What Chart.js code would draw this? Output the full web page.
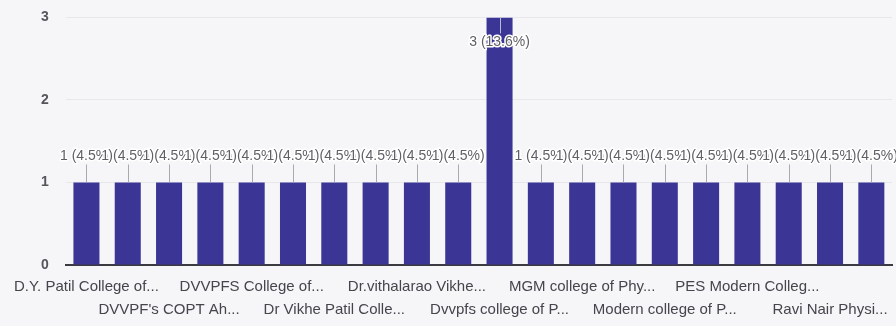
<!DOCTYPE html>
<html>
<head>
<meta charset="utf-8">
<script src="https://cdn.jsdelivr.net/npm/chart.js@4"></script>
<style>
  html, body { margin: 0; padding: 0; background: #f6f6f8; }
  #wrap { width: 896px; height: 326px; }
</style>
</head>
<body>
<div id="wrap"><canvas id="chart"></canvas></div>
<script>
// colleges, only every other name is readable in the picture
const categories = [
    "D.Y. Patil College of...", "",
    "DVVPF's COPT Ah...", "",
    "DVVPFS College of...", "",
    "Dr Vikhe Patil Colle...", "",
    "Dr.vithalarao Vikhe...", "",
    "Dvvpfs college of P...", "",
    "MGM college of Phy...", "",
    "Modern college of P...", "",
    "PES Modern Colleg...", "",
    "Ravi Nair Physi...", ""
];
const counts = [1, 1, 1, 1, 1, 1, 1, 1, 1, 1, 3, 1, 1, 1, 1, 1, 1, 1, 1, 1];
const yTicks = [0, 1, 2, 3];

const barColor = "#3b3596";
const textColor = "#5f5f66";

const total = counts.reduce((a, b) => a + b, 0);

// google-style annotations: value (pct) with a white aura and a small leader line
const annotations = {
    id: "annotations",
    afterDatasetsDraw(chart)
    {
        const ctx = chart.ctx;
        const area = chart.chartArea;
        const bars = chart.getDatasetMeta(0).data;

        ctx.save();
        ctx.font = "14px 'Liberation Sans', Arial, sans-serif";
        ctx.textAlign = "center";
        ctx.textBaseline = "middle";

        bars.forEach((bar, i) => {
            const v = counts[i];
            const text = v + " (" + (v / total * 100).toFixed(1) + "%)";
            const inside = bar.y - 40 < area.top;
            const ty = inside ? bar.y + 25 : bar.y - 26;

            ctx.strokeStyle = inside ? "#b9b8d6" : "#a9a9b0";
            ctx.lineWidth = 1;
            ctx.beginPath();
            ctx.moveTo(Math.round(bar.x) + 0.5, bar.y);
            ctx.lineTo(Math.round(bar.x) + 0.5, inside ? bar.y + 16 : bar.y - 18);
            ctx.stroke();

            ctx.lineJoin = "round";
            ctx.lineWidth = 3;
            ctx.strokeStyle = "#ffffff";
            ctx.strokeText(text, bar.x, ty);
            ctx.fillStyle = textColor;
            ctx.fillText(text, bar.x, ty);
        });
        ctx.restore();
    }
};

new Chart(document.getElementById("chart"), {
    type: "bar",
    data: {
        labels: categories,
        datasets: [{
            data: counts,
            backgroundColor: barColor,
            categoryPercentage: 1,
            barPercentage: 0.63
        }]
    },
    options: {
        responsive: true,
        maintainAspectRatio: false,
        animation: false,
        layout: { padding: { top: 3, right: 4, bottom: 3, left: 32 } },
        plugins: {
            legend: { display: false },
            tooltip: { enabled: false }
        },
        scales: {
            x: {
                grid: { display: false },
                border: { display: true, color: "#3a3a40", width: 2 },
                ticks: {
                    autoSkip: false,
                    maxRotation: 0,
                    minRotation: 0,
                    padding: 2,
                    color: "#45454c",
                    font: { family: "'Liberation Sans', Arial, sans-serif", size: 15, lineHeight: "23px" },
                    callback: (value, index) => {
                        if (index % 2) return null;
                        return index % 4 === 0 ? categories[index] : ["", categories[index]];
                    }
                }
            },
            y: {
                min: yTicks[0],
                max: yTicks[yTicks.length - 1],
                afterBuildTicks: axis => { axis.ticks = yTicks.map(v => ({ value: v })); },
                grid: { color: "#e8e8ec", drawTicks: true, tickLength: 8, tickColor: "transparent" },
                border: { display: false },
                ticks: {
                    padding: 9,
                    color: "#55555c",
                    font: { family: "'Liberation Sans', Arial, sans-serif", size: 14, weight: "bold" }
                }
            }
        }
    },
    plugins: [annotations]
});
</script>
</body>
</html>
